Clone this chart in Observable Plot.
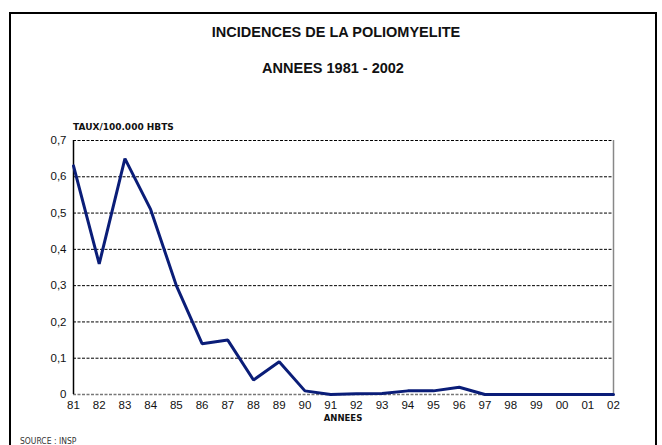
<!DOCTYPE html>
<html><head><meta charset="utf-8">
<script src="https://cdn.jsdelivr.net/npm/d3@7"></script>
<script src="https://cdn.jsdelivr.net/npm/@observablehq/plot@0.6"></script>
<style>
html,body{margin:0;padding:0;background:#fff;overflow:hidden;width:662px;height:445px;font-family:"Liberation Sans",Arial,sans-serif;}
#frame{position:absolute;left:9px;top:12px;width:644px;height:500px;border:2px solid #000;}
.t{position:absolute;white-space:nowrap;color:#111;}
.s{font-family:"DejaVu Sans",Verdana,sans-serif;font-size:8.5px;font-weight:bold;}
#chart{position:absolute;left:0;top:0;}
</style></head><body>
<div id="frame"></div>
<div id="chart"></div>
<div class="t" style="left:0;width:672px;text-align:center;top:24px;font-size:14.5px;font-weight:bold;">INCIDENCES DE LA POLIOMYELITE</div>
<div class="t" style="left:0;width:666px;text-align:center;top:60px;font-size:14.5px;font-weight:bold;">ANNEES 1981 - 2002</div>
<div class="t s" style="left:73px;top:122px;font-size:9px;">TAUX/100.000 HBTS</div>
<div class="t s" style="left:0;width:686px;text-align:center;top:413px;">ANNEES</div>
<div class="t" style="left:20px;top:436px;font-size:8.5px;font-family:'DejaVu Sans Condensed','Liberation Sans Narrow',sans-serif;color:#333;">SOURCE : INSP</div>
<script>
const years = [1981,1982,1983,1984,1985,1986,1987,1988,1989,1990,1991,1992,1993,1994,1995,1996,1997,1998,1999,2000,2001,2002];
const rates = [0.63,0.36,0.65,0.51,0.30,0.14,0.15,0.04,0.09,0.01,0.0,0.002,0.003,0.01,0.01,0.02,0.0,0.0,0.0,0.0,0.0,0.0];
const yTicks = [0,0.1,0.2,0.3,0.4,0.5,0.6,0.7];
const data = years.map((y,i)=>({year:y, rate:rates[i]}));
const chart = Plot.plot({
  width:662, height:445,
  marginLeft:73, marginRight:49, marginTop:140, marginBottom:51,
  style:{fontFamily:"'Liberation Sans',Arial,sans-serif", fontSize:"11.5px", color:"#111", background:"transparent"},
  x:{domain:[1981,2002], ticks:years, tickFormat:d=>String(d%100).padStart(2,"0"), label:null, tickSize:0, tickPadding:6},
  y:{domain:[0,0.7], ticks:yTicks, tickFormat:d=>String(d).replace(".",","), label:null, tickSize:0, tickPadding:7},
  marks:[
    Plot.ruleY(yTicks.filter(d=>d>0), {stroke:"#000", strokeWidth:1, strokeDasharray:"3,1.5"}),
    Plot.ruleY([0], {stroke:"#777", strokeWidth:1.5, strokeDasharray:"3,1.5"}),
    Plot.ruleX([2002], {stroke:"#888", strokeWidth:1.5}),
    Plot.ruleX([1981], {stroke:"#000", strokeWidth:1.5}),
    Plot.line(data, {x:"year", y:"rate", stroke:"#0a1d78", strokeWidth:3, strokeLinejoin:"miter"})
  ]
});
document.getElementById("chart").appendChild(chart);
</script>
</body></html>
